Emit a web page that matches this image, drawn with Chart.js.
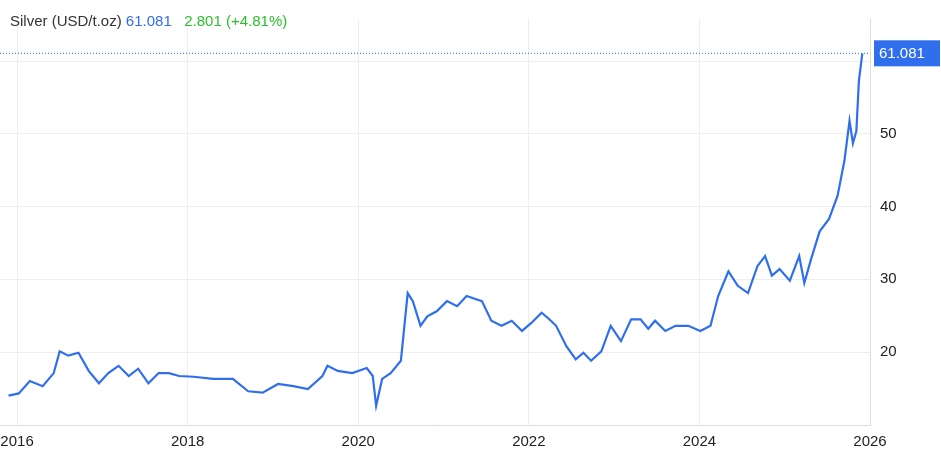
<!DOCTYPE html>
<html><head><meta charset="utf-8">
<script src="https://cdn.jsdelivr.net/npm/chart.js@4"></script>
<style>
body{margin:0;background:#fff;font-family:Arial,"Liberation Sans",sans-serif}
#wrap{position:relative;width:941px;height:459px}
#title{position:absolute;left:10px;top:12px;font-size:15px;color:#333}
</style></head><body>
<div id="wrap"><canvas id="c" width="941" height="459"></canvas>
<div id="title">Silver (USD/t.oz) <span style="color:#2f6fed">61.081</span>&nbsp;&nbsp; <span style="color:#2cc12c">2.801 (+4.81%)</span></div></div>
<script>
var years = [2015.9,2016.02,2016.15,2016.3,2016.43,2016.5,2016.6,2016.72,2016.84,2016.96,2017.07,2017.19,2017.31,2017.42,2017.54,2017.66,2017.78,2017.9,2018.07,2018.3,2018.53,2018.71,2018.88,2019.06,2019.24,2019.41,2019.58,2019.64,2019.76,2019.93,2020.1,2020.17,2020.21,2020.28,2020.38,2020.5,2020.58,2020.64,2020.73,2020.81,2020.92,2021.04,2021.16,2021.27,2021.45,2021.56,2021.68,2021.8,2021.92,2022.03,2022.15,2022.24,2022.32,2022.44,2022.55,2022.64,2022.73,2022.85,2022.96,2023.08,2023.2,2023.31,2023.4,2023.48,2023.6,2023.72,2023.87,2024.01,2024.13,2024.22,2024.34,2024.45,2024.57,2024.68,2024.77,2024.85,2024.94,2025.06,2025.17,2025.23,2025.31,2025.41,2025.52,2025.62,2025.7,2025.76,2025.8,2025.84,2025.87,2025.91];
var prices = [14.0,14.3,16.0,15.3,17.1,20.1,19.5,19.9,17.4,15.7,17.1,18.1,16.7,17.7,15.7,17.1,17.1,16.7,16.6,16.3,16.3,14.6,14.4,15.6,15.3,14.9,16.7,18.1,17.4,17.1,17.8,16.7,12.6,16.3,17.1,18.8,28.1,27.0,23.6,24.9,25.6,27.0,26.3,27.7,27.0,24.3,23.6,24.3,22.9,24.0,25.4,24.5,23.6,20.8,19.0,19.9,18.8,20.1,23.6,21.5,24.5,24.5,23.2,24.3,22.9,23.6,23.6,22.9,23.6,27.7,31.1,29.1,28.1,31.8,33.2,30.5,31.4,29.8,33.2,29.5,32.8,36.6,38.3,41.5,46.3,51.8,48.7,50.4,57.3,61.081];
var yTicks = [20,30,40,50];
var xTicks = [2016,2018,2020,2022,2024,2026];
var lastValue = 61.081;

var tag = {
  id: 'tag',
  afterDraw(chart) {
    var ctx = chart.ctx, y = chart.scales.y.getPixelForValue(lastValue), a = chart.chartArea;
    ctx.save();
    ctx.strokeStyle = '#2f6fed'; ctx.setLineDash([1, 2]); ctx.lineWidth = 1;
    ctx.beginPath(); ctx.moveTo(a.left, y); ctx.lineTo(a.right, y); ctx.stroke();
    ctx.setLineDash([]);
    ctx.fillStyle = '#2f6fed'; ctx.fillRect(a.right + 4, y - 13, 66, 26);
    ctx.fillStyle = '#fff'; ctx.font = '15px Arial'; ctx.textBaseline = 'middle';
    ctx.fillText(lastValue.toFixed(3), a.right + 9, y + 1);
    ctx.restore();
  }
};

new Chart('c', {
  type: 'line',
  data: { datasets: [{ data: years.map((x, i) => ({x: x, y: prices[i]})), borderColor: '#2f6fed', borderWidth: 2.2, pointRadius: 0, tension: 0, fill: false }] },
  options: {
    responsive: false, animation: false,
    layout: { padding: 0 },
    plugins: { legend: { display: false }, tooltip: { enabled: false } },
    scales: {
      x: { type: 'linear', min: 2015.8, max: 2026.0,
        afterBuildTicks: s => { s.ticks = xTicks.map(v => ({value: v})); },
        afterFit: s => { s.height = 34; s.paddingLeft = 0; },
        grid: { color: '#eeeeee', drawTicks: false },
        border: { color: '#dddddd' },
        ticks: { color: '#222', font: { size: 15, family: 'Arial' }, padding: 8, callback: v => String(v) } },
      y: { position: 'right', min: 9.96, max: 65.8,
        afterBuildTicks: s => { s.ticks = [20,30,40,50,60].map(v => ({value: v})); },
        afterFit: s => { s.width = 71; },
        grid: { color: '#eeeeee', drawTicks: false },
        border: { color: '#dddddd' },
        ticks: { color: '#222', font: { size: 15, family: 'Arial' }, padding: 10, callback: v => yTicks.includes(v) ? String(v) : '' } }
    }
  },
  plugins: [tag]
});
</script></body></html>
